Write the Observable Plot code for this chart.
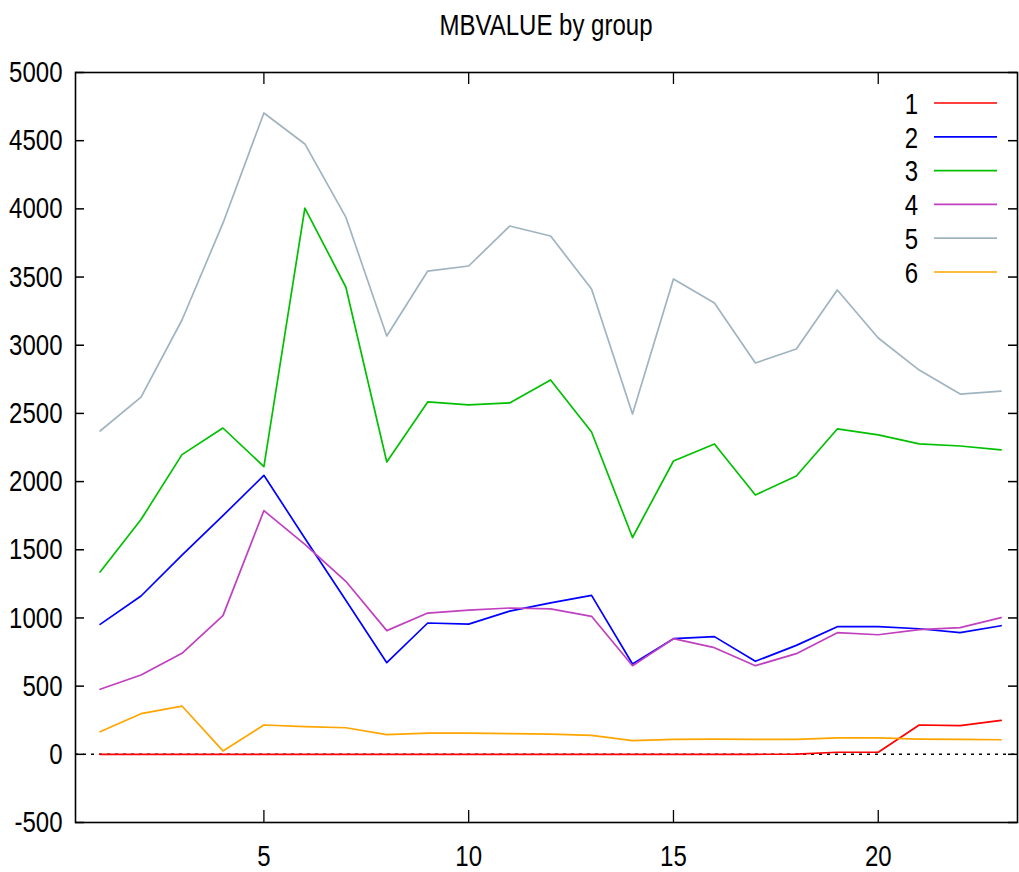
<!DOCTYPE html>
<html>
<head>
<meta charset="utf-8">
<script src="https://cdn.jsdelivr.net/npm/d3@7"></script>
<script src="https://cdn.jsdelivr.net/npm/@observablehq/plot@0.6"></script>
<style>
  body { margin: 0; background: white; }
  #wrap { position: relative; width: 1019px; height: 872px; font-family: "Liberation Sans", Arial, sans-serif; }
  #chart { position: absolute; left: 0; top: 0; }
  #title { position: absolute; left: 75px; width: 942px; top: 0; height: 50px; line-height: 50px; text-align: center; font-size: 30px; transform: scaleX(0.8); transform-origin: 50% 50%; }
  #legend { position: absolute; left: 860px; top: 86px; }
</style>
</head>
<body>
<div id="wrap">
  <div id="chart"></div>
  <div id="title">MBVALUE by group</div>
  <svg id="legend" width="150" height="210"></svg>
</div>
<script>
const xs = [1,2,3,4,5,6,7,8,9,10,11,12,13,14,15,16,17,18,19,20,21,22,23];
const groups = ["1","2","3","4","5","6"];
const colors = ["#ff0000","#0000ff","#00c000","#c040c0","#a0b4c0","#ffa500"];
const v1 = [0,0,0,0,0,0,0,0,0,0,0,0,0,0,0,0,0,2,15,15,215,211,249];
const v2 = [953,1161,1460,1750,2046,1585,1130,672,963,955,1050,1110,1166,662,848,863,682,799,936,936,921,892,943];
const v3 = [1337,1722,2198,2393,2110,4006,3427,2144,2584,2562,2577,2745,2364,1590,2151,2276,1902,2041,2386,2342,2276,2261,2232];
const v4 = [477,582,741,1017,1787,1540,1269,907,1036,1058,1073,1066,1012,650,848,782,650,738,892,877,914,929,1002];
const v5 = [2371,2620,3185,3895,4703,4476,3940,3068,3544,3581,3874,3801,3412,2496,3486,3310,2870,2972,3405,3053,2818,2642,2664];
const v6 = [166,298,354,25,215,203,195,144,155,155,152,148,139,100,110,112,110,110,120,120,112,110,107];
const yTicks = [-500,0,500,1000,1500,2000,2500,3000,3500,4000,4500,5000];
const xTicks = [5,10,15,20];

const values = [v1,v2,v3,v4,v5,v6];
const rows = [];
groups.forEach((g, gi) => xs.forEach((x, i) => rows.push({group: g, x, y: values[gi][i]})));

const W = 1019, H = 872, mT = 72, mB = 50, mL = 75, mR = 2;
const fw = W - mL - mR, fh = H - mT - mB;
const font = '"Liberation Sans", Arial, sans-serif';
const squeeze = 0.8;

const chart = Plot.plot({
  width: W, height: H,
  marginTop: mT, marginBottom: mB, marginLeft: mL, marginRight: mR,
  x: {domain: [0.4, 23.4], label: null},
  y: {domain: [-500, 5000], label: null},
  color: {domain: groups, range: colors},
  style: {fontFamily: font, fontSize: "30px", color: "black", background: "white"},
  marks: [
    Plot.ruleY([0], {stroke: "black", strokeWidth: 1.6, strokeDasharray: "3,5"}),
    Plot.line(rows, {x: "x", y: "y", z: "group", stroke: "group", strokeWidth: 1.7}),
    Plot.frame({stroke: "black", strokeWidth: 1.6}),
    Plot.tickY(yTicks, {y: d => d, stroke: "black", strokeWidth: 1.5, insetRight: fw - 9}),
    Plot.tickY(yTicks, {y: d => d, stroke: "black", strokeWidth: 1.5, insetLeft: fw - 9}),
    Plot.tickX(xTicks, {x: d => d, stroke: "black", strokeWidth: 1.3, insetTop: fh - 12}),
    Plot.tickX(xTicks, {x: d => d, stroke: "black", strokeWidth: 1.3, insetBottom: fh - 12}),
    Plot.axisY(yTicks, {anchor: "left", tickSize: 0, tickPadding: 13, fontSize: 30, label: null, tickFormat: d => String(d)}),
    Plot.axisX(xTicks, {anchor: "bottom", tickSize: 0, tickPadding: 22, fontSize: 30, label: null, tickFormat: d => String(d)})
  ]
});
chart.querySelectorAll("text").forEach(t => {
  const x = +t.getAttribute("x") || 0, y = +t.getAttribute("y") || 0;
  const tr = t.getAttribute("transform") || "";
  t.setAttribute("transform", `${tr} translate(${x},${y}) scale(${squeeze},1) translate(${-x},${-y})`);
});
document.getElementById("chart").appendChild(chart);

// legend
const leg = d3.select("#legend");
const rowH = 33.8;
groups.forEach((g, i) => {
  const cy = 17 + i * rowH;
  leg.append("text")
    .attr("transform", `translate(58,${cy}) scale(${squeeze},1)`)
    .attr("text-anchor", "end").attr("dy", "0.36em")
    .attr("font-family", font).attr("font-size", 30)
    .text(g);
  leg.append("line")
    .attr("x1", 74).attr("x2", 137).attr("y1", cy).attr("y2", cy)
    .attr("stroke", colors[i]).attr("stroke-width", 1.7);
});
</script>
</body>
</html>
